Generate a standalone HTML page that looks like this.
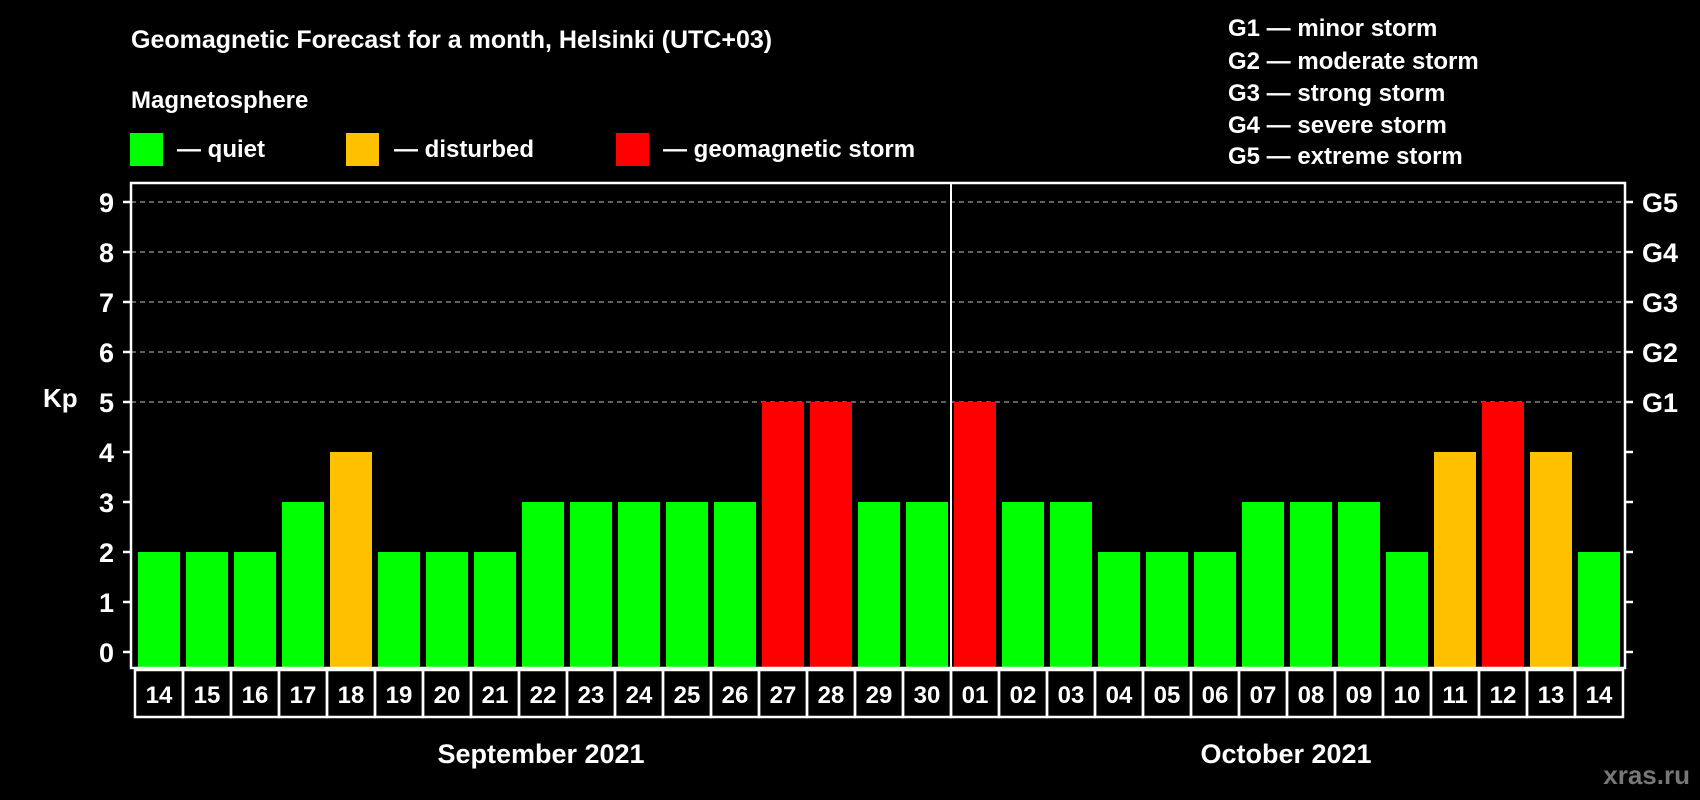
<!DOCTYPE html>
<html><head><meta charset="utf-8"><style>
html,body{margin:0;padding:0;background:#000;}
svg{display:block;font-family:"Liberation Sans",Arial,sans-serif;font-weight:bold;}
</style></head><body>
<svg id="chart" width="1700" height="800" viewBox="0 0 1700 800" xmlns="http://www.w3.org/2000/svg">
<rect width="1700" height="800" fill="#000"/>
<text x="131" y="48" fill="#fff" font-size="25">Geomagnetic Forecast for a month, Helsinki (UTC+03)</text>
<text x="131" y="108" fill="#fff" font-size="24">Magnetosphere</text>
<g><rect x="130" y="133" width="33" height="33" fill="#00ff00"/><text x="177" y="157" fill="#fff" font-size="24">— quiet</text></g>
<g><rect x="346" y="133" width="33" height="33" fill="#ffc000"/><text x="394" y="157" fill="#fff" font-size="24">— disturbed</text></g>
<g><rect x="616" y="133" width="33" height="33" fill="#ff0000"/><text x="663" y="157" fill="#fff" font-size="24">— geomagnetic storm</text></g>
<g fill="#fff" font-size="24">
<text x="1228" y="36">G1 — minor storm</text>
<text x="1228" y="69">G2 — moderate storm</text>
<text x="1228" y="101">G3 — strong storm</text>
<text x="1228" y="133">G4 — severe storm</text>
<text x="1228" y="164">G5 — extreme storm</text>
</g>
<g id="grid"></g>
<g id="bars"></g>
<g id="axes"></g>
<text x="43" y="407" fill="#fff" font-size="26">Kp</text>
<text x="541" y="763" fill="#fff" font-size="27" text-anchor="middle">September 2021</text>
<text x="1286" y="763" fill="#fff" font-size="27" text-anchor="middle">October 2021</text>
<text x="1690" y="784" fill="#777" font-size="26" text-anchor="end">xras.ru</text>
</svg>
<script>
const days = ["14","15","16","17","18","19","20","21","22","23","24","25","26","27","28","29","30","01","02","03","04","05","06","07","08","09","10","11","12","13","14"];
const kpValues = [2,2,2,3,4,2,2,2,3,3,3,3,3,5,5,3,3,5,3,3,2,2,2,3,3,3,2,4,5,4,2];
const yTicks = [0,1,2,3,4,5,6,7,8,9];
const gLabels = ["G1","G2","G3","G4","G5"];
const gLevels = [5,6,7,8,9];
const monthSplit = 17;

const NS="http://www.w3.org/2000/svg";
const plotL=131, plotR=1625, plotT=183, plotB=668;
const catL=135, pitch=48, barW=42;
const yS = v => 652 - 50*v;
const xS = i => catL + pitch*i;
function mk(tag, attrs, parent){const e=document.createElementNS(NS,tag);for(const k in attrs)e.setAttribute(k,attrs[k]);parent.appendChild(e);return e;}
const grid=document.getElementById('grid'), bars=document.getElementById('bars'), axes=document.getElementById('axes');
function color(v){return v>=5?"#ff0000":(v>=4?"#ffc000":"#00ff00");}

gLevels.forEach((lv,i)=>{
  const l=mk('line',{x1:plotL,x2:plotR,y1:yS(lv),y2:yS(lv),stroke:"#999","stroke-width":1.3,"stroke-dasharray":"5,4"},grid);
  
  
  const t=mk('text',{x:1642,y:yS(lv)+10,fill:"#fff","font-size":27},axes);
  t.textContent=gLabels[i];
  
  
});

kpValues.forEach((v,i)=>{
  const r=mk('rect',{x:xS(i)+3,y:yS(v),width:barW,height:plotB-yS(v),fill:color(v)},bars);
  
  
  const b=mk('rect',{x:xS(i),y:plotB+2,width:pitch,height:47,fill:"none",stroke:"#fff","stroke-width":2.5},axes);
  
  
  const t=mk('text',{x:xS(i)+pitch/2,y:plotB+35,fill:"#fff","font-size":24,"text-anchor":"middle"},axes);
  t.textContent=days[i];
  
  
});

const frame=mk('rect',{x:plotL,y:plotT,width:plotR-plotL,height:plotB-plotT,fill:"none",stroke:"#fff","stroke-width":2.5},axes);


const sep=mk('line',{x1:xS(monthSplit),x2:xS(monthSplit),y1:plotT,y2:plotB,stroke:"#fff","stroke-width":2},axes);



yTicks.forEach(v=>{
  const tl=mk('line',{x1:plotL-8,x2:plotL,y1:yS(v),y2:yS(v),stroke:"#fff","stroke-width":2.5},axes);
  
  
  const tr=mk('line',{x1:plotR,x2:plotR+8,y1:yS(v),y2:yS(v),stroke:"#fff","stroke-width":2.5},axes);
  
  
  const t=mk('text',{x:114,y:yS(v)+10,fill:"#fff","font-size":27,"text-anchor":"end"},axes);
  t.textContent=v;
  
  
});
</script>
</body></html>
